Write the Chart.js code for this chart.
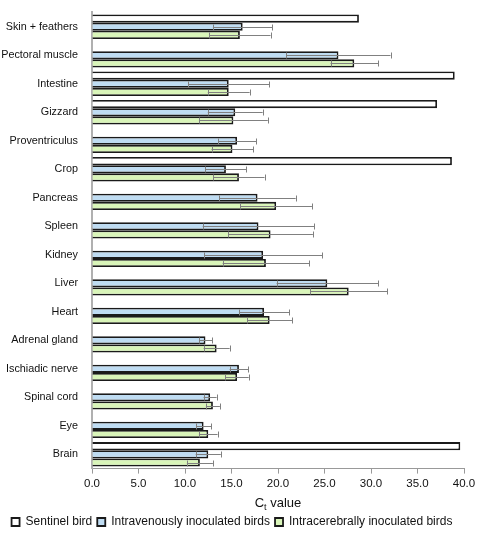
<!DOCTYPE html>
<html>
<head>
<meta charset="utf-8">
<script src="https://cdn.jsdelivr.net/npm/chart.js@4/dist/chart.umd.min.js"></script>
<style>
  html, body { margin: 0; padding: 0; background: #fff; }
</style>
</head>
<body>
<canvas id="myChart" width="480" height="538"></canvas>
<script>
// tissues, top to bottom
var categories = ['Skin + feathers', 'Pectoral muscle', 'Intestine', 'Gizzard', 'Proventriculus', 'Crop',
  'Pancreas', 'Spleen', 'Kidney', 'Liver', 'Heart', 'Adrenal gland', 'Ischiadic nerve', 'Spinal cord', 'Eye', 'Brain'];

// mean Ct values (null = not detected)
var sentinel = [28.7, null, 39.0, 37.1, null, 38.7, null, null, null, null, null, null, null, null, null, 39.6];
var intravenous = [16.2, 26.5, 14.7, 15.4, 15.6, 14.4, 17.8, 17.9, 18.4, 25.3, 18.5, 12.2, 15.8, 12.7, 12.0, 12.5];
var intravenousSd = [3.2, 5.6, 4.35, 2.95, 2.05, 2.2, 4.1, 6.0, 6.35, 5.45, 2.7, 0.7, 1.0, 0.7, 0.8, 1.35];
var intracerebral = [15.9, 28.2, 14.7, 15.2, 15.1, 15.8, 19.8, 19.2, 18.7, 27.6, 19.1, 13.4, 15.6, 13.0, 12.5, 11.6];
var intracerebralSd = [3.3, 2.55, 2.25, 3.7, 2.25, 2.75, 3.85, 4.55, 4.65, 4.15, 2.4, 1.4, 1.25, 0.75, 1.0, 1.4];

// x axis ticks
var xMin = 0, xMax = 40, xStep = 5;

var FONT = "'Liberation Sans', Arial, sans-serif";

// draws the +/- SD whiskers on the blue and green bars
var errorBars = {
  id: 'errorBars',
  afterDatasetsDraw: function (chart) {
    var ctx = chart.ctx;
    var x = chart.scales.x;
    ctx.save();
    ctx.strokeStyle = '#808080';
    ctx.lineWidth = 1;
    chart.data.datasets.forEach(function (ds, di) {
      if (!ds.sd) return;
      var meta = chart.getDatasetMeta(di);
      meta.data.forEach(function (bar, i) {
        var v = ds.data[i];
        if (v == null) return;
        var lo = x.getPixelForValue(v - ds.sd[i]);
        var hi = x.getPixelForValue(v + ds.sd[i]);
        var y = Math.round(bar.y) + 0.5;
        ctx.beginPath();
        ctx.moveTo(lo, y); ctx.lineTo(hi, y);
        ctx.moveTo(Math.round(lo) + 0.5, y - 3); ctx.lineTo(Math.round(lo) + 0.5, y + 3);
        ctx.moveTo(Math.round(hi) + 0.5, y - 3); ctx.lineTo(Math.round(hi) + 0.5, y + 3);
        ctx.stroke();
      });
    });
    ctx.restore();
  }
};

// x axis title with a real subscript "t"
var subTitle = {
  id: 'subTitle',
  afterDraw: function (chart) {
    var ctx = chart.ctx;
    var area = chart.chartArea;
    var sx = chart.scales.x;
    var cx = (area.left + area.right) / 2;
    var y = sx.bottom - 4;
    ctx.save();
    ctx.fillStyle = '#111';
    ctx.textBaseline = 'alphabetic';
    ctx.font = '13px ' + FONT;
    var wC = ctx.measureText('C').width;
    var wV = ctx.measureText(' value').width;
    ctx.font = '9px ' + FONT;
    var wT = ctx.measureText('t').width;
    var start = cx - (wC + wT + wV) / 2;
    ctx.font = '13px ' + FONT;
    ctx.fillText('C', start, y);
    ctx.fillText(' value', start + wC + wT, y);
    ctx.font = '9px ' + FONT;
    ctx.fillText('t', start + wC, y + 2.5);
    ctx.restore();
  }
};

var ctx = document.getElementById('myChart').getContext('2d');
var chart = new Chart(ctx, {
  type: 'bar',
  data: {
    labels: categories,
    datasets: [{
      label: 'Sentinel bird',
      data: sentinel,
      backgroundColor: '#ffffff',
      borderColor: '#1a1a1a',
      borderWidth: 1.8
    },
    {
      label: 'Intravenously inoculated birds',
      data: intravenous,
      sd: intravenousSd,
      backgroundColor: '#bfdcf2',
      borderColor: '#1a1a1a',
      borderWidth: 1.8
    },
    {
      label: 'Intracerebrally inoculated birds',
      data: intracerebral,
      sd: intracerebralSd,
      backgroundColor: '#d9f5b9',
      borderColor: '#1a1a1a',
      borderWidth: 1.8
    }]
  },
  options: {
    indexAxis: 'y',
    responsive: false,
    animation: false,
    categoryPercentage: 0.86,
    barPercentage: 1.0,
    layout: { padding: { left: 0, right: 16, top: 7, bottom: 0 } },
    plugins: {
      tooltip: { enabled: false },
      legend: {
        position: 'bottom',
        labels: {
          boxWidth: 8,
          boxHeight: 8,
          padding: 5,
          color: '#111',
          font: { family: FONT, size: 12 }
        }
      }
    },
    scales: {
      x: {
        min: xMin,
        max: xMax,
        ticks: {
          stepSize: xStep,
          padding: 3,
          color: '#111',
          font: { family: FONT, size: 11.5 },
          callback: function (v) { return v.toFixed(1); }
        },
        grid: { drawOnChartArea: false, drawTicks: true, tickLength: 5, color: '#999' },
        border: { color: '#999', width: 1 },
        title: { display: true, text: 'Ct value', color: 'rgba(0,0,0,0)', font: { family: FONT, size: 13 }, padding: { top: 0, bottom: 2 } }
      },
      y: {
        afterFit: function (scale) { scale.width = 92; },
        ticks: {
          padding: 6,
          color: '#111',
          font: { family: FONT, size: 10.8 }
        },
        grid: { display: false },
        border: { color: '#b0b0b0', width: 2 }
      }
    }
  },
  plugins: [errorBars, subTitle]
});
</script>
</body>
</html>
